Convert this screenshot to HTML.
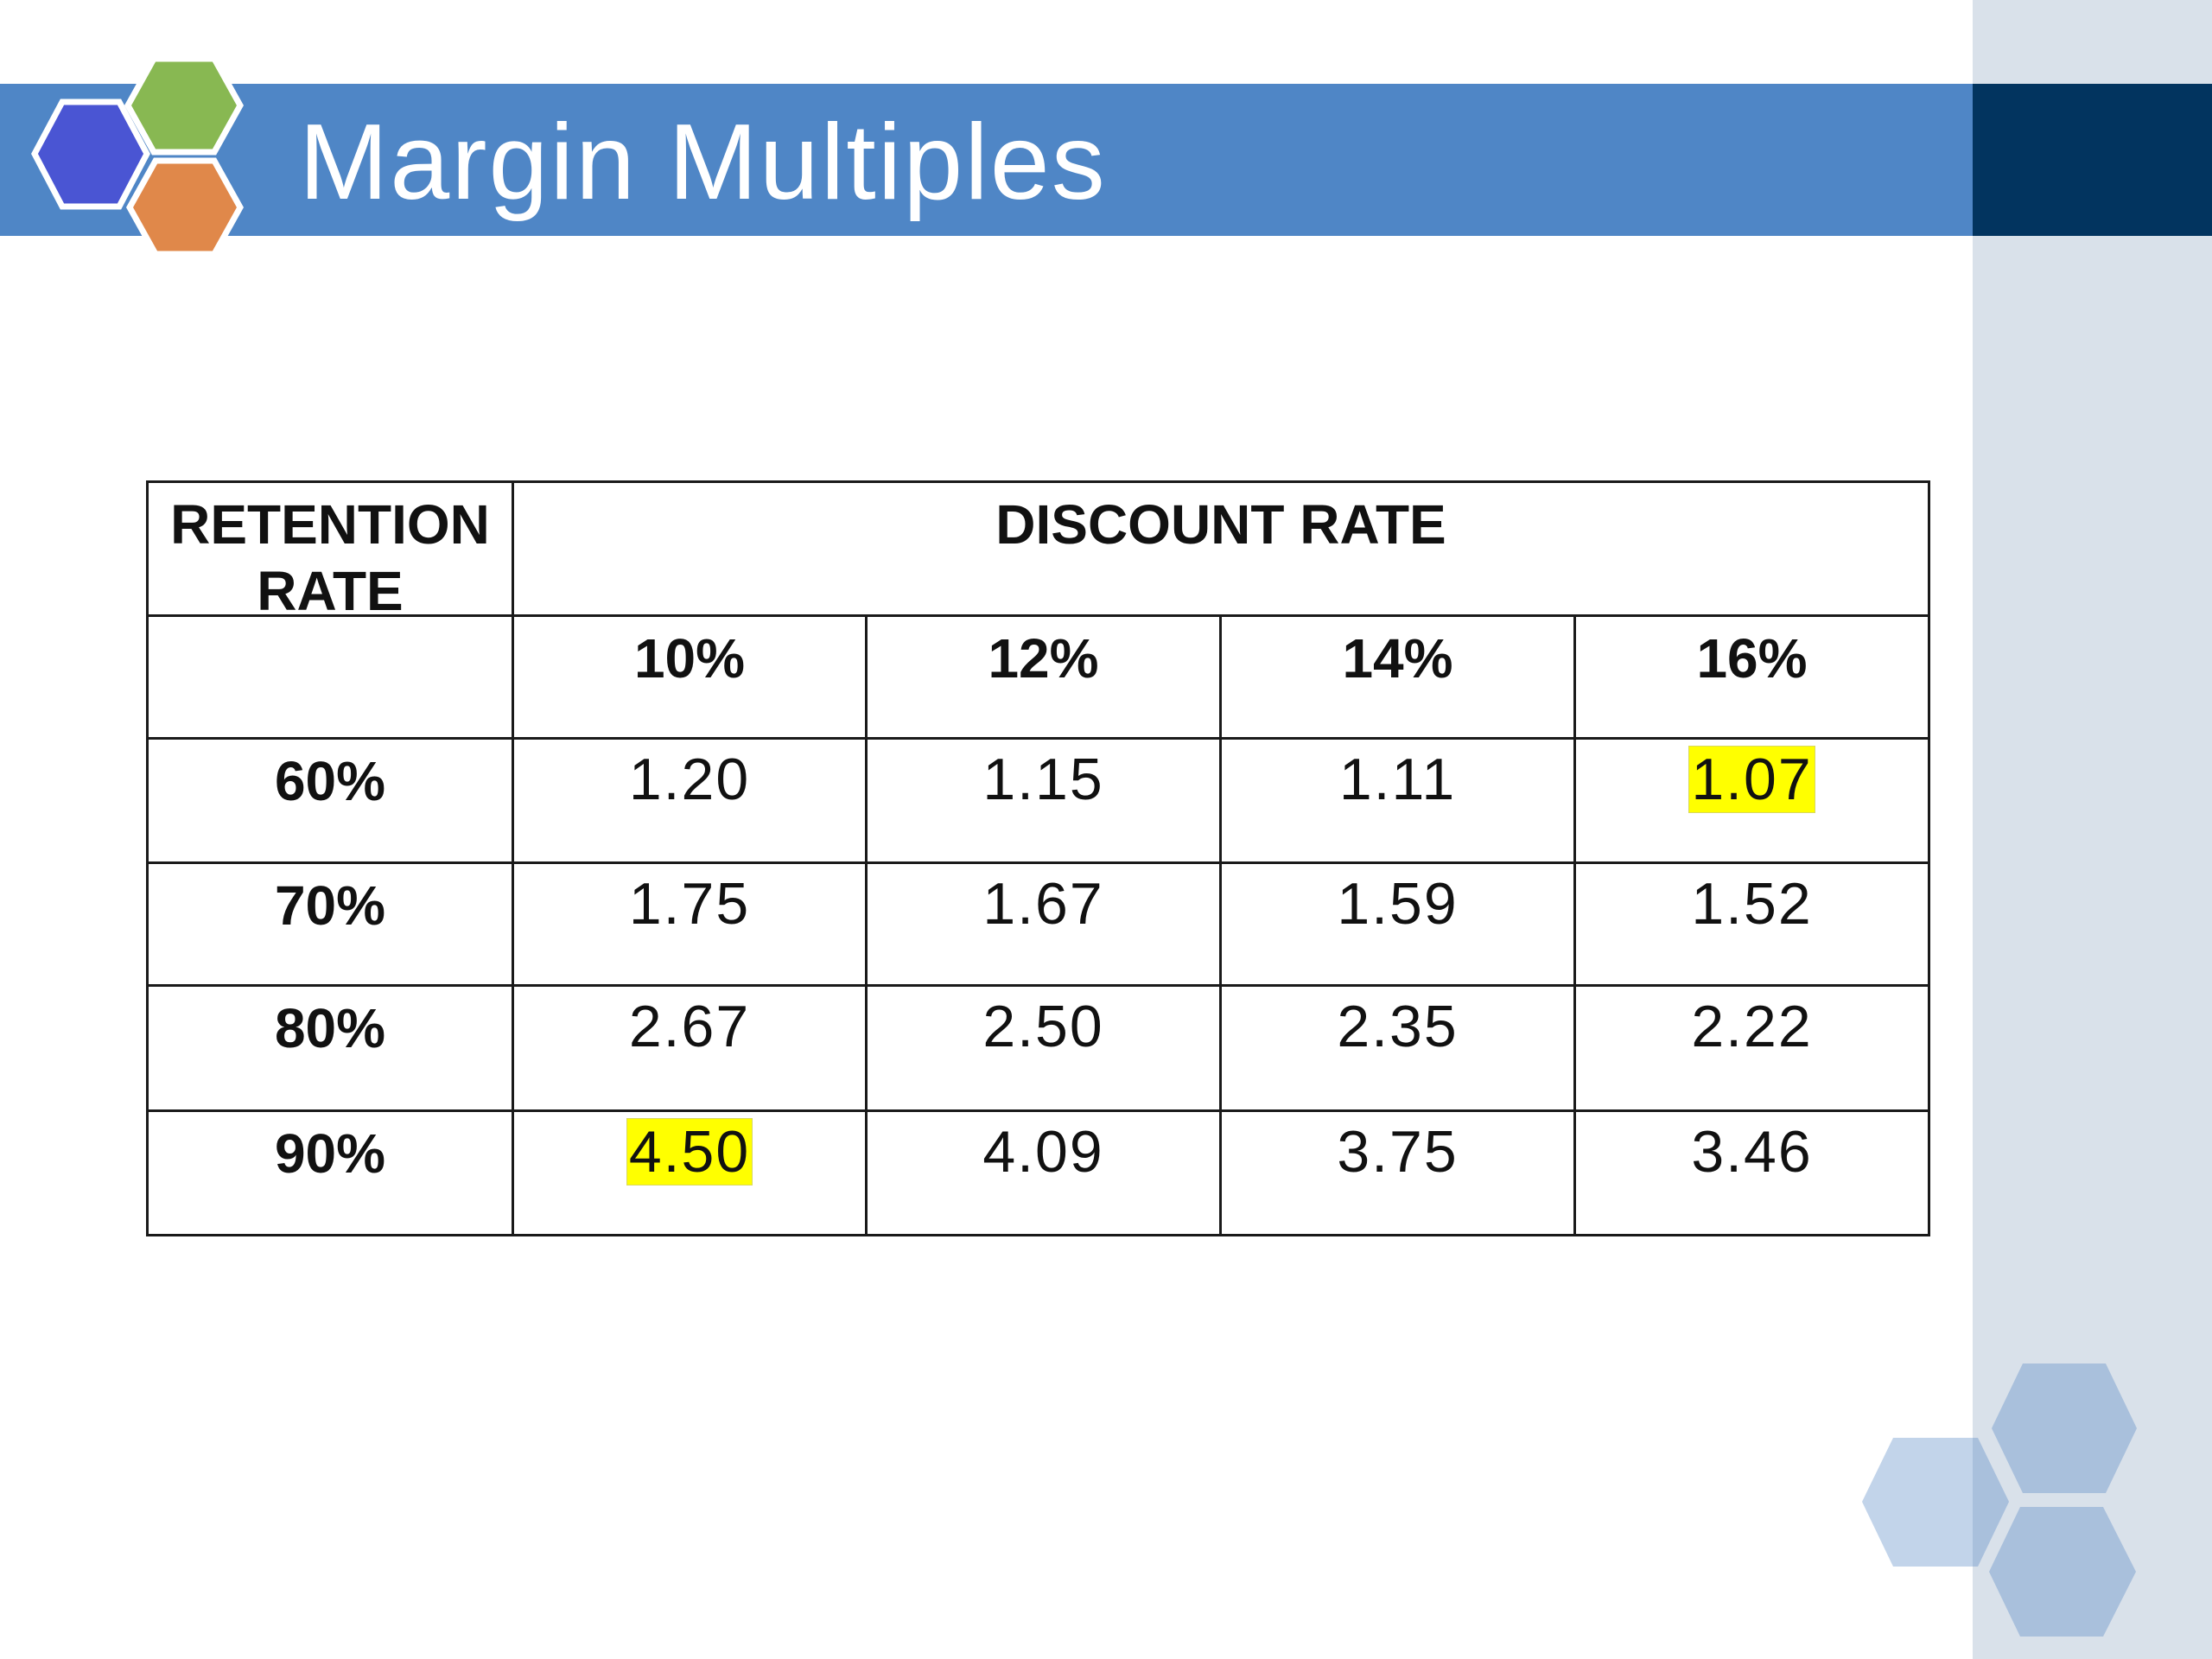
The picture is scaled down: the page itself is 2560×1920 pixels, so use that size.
<!DOCTYPE html>
<html><head><meta charset="utf-8"><style>
html,body{margin:0;padding:0}
body{width:2560px;height:1920px;position:relative;overflow:hidden;background:#fff;font-family:"Liberation Sans",Arial,sans-serif}
.abs{position:absolute}
.cell{position:absolute;box-sizing:border-box;text-align:center;color:#111}
.hl{background:#ffff00;outline:1px solid #d8d860;padding:0 2px}
</style></head><body>
<div class="abs" style="left:2283px;top:0;width:277px;height:1920px;background:#d9e1ea"></div>
<div class="abs" style="left:0;top:97px;width:2283px;height:176px;background:#4f86c6"></div>
<div class="abs" style="left:2283px;top:97px;width:277px;height:176px;background:#02345f"></div>
<svg class="abs" style="left:0;top:0" width="300" height="310">
<polygon points="40,178 72,118 138,118 170,178 138,239 72,239" fill="#4a55d3" stroke="#fff" stroke-width="7"/>
<polygon points="148,122 178,68 248,68 278,122 248,176 178,176" fill="#88b852" stroke="#fff" stroke-width="7"/>
<polygon points="150,240 180,186 248,186 278,240 248,294 180,294" fill="#e0884a" stroke="#fff" stroke-width="7"/>
</svg>
<div class="abs" style="left:346px;top:118px;font-size:124px;color:#fff;line-height:140px;letter-spacing:2px">Margin Multiples</div>
<svg class="abs" style="left:2100px;top:1500px" width="460" height="420">
<defs><clipPath id="cp"><rect x="183" y="0" width="300" height="420"/></clipPath></defs>
<polygon points="55,238 91,164 189,164 225,238 189,313 91,313" fill="#c2d4ea"/>
<polygon points="55,238 91,164 189,164 225,238 189,313 91,313" fill="#a9c0dc" clip-path="url(#cp)"/>
<polygon points="205,153 241,78 337,78 373,153 337,228 241,228" fill="#a9c0dc"/>
<polygon points="202,319 238,244 334,244 372,319 334,394 238,394" fill="#a9c0dc"/>
</svg>
<div id="tbl"></div>
<script>
const discountRates=["10%","12%","14%","16%"];
const retentionRates=["60%","70%","80%","90%"];
const row60=["1.20","1.15","1.11","1.07"];
const row70=["1.75","1.67","1.59","1.52"];
const row80=["2.67","2.50","2.35","2.22"];
const row90=["4.50","4.09","3.75","3.46"];
const values=[row60,row70,row80,row90];
const highlights=[[0,3],[3,0]];
const colX=[170,593,1002,1412,1822,2232];
const rowY=[557,712,854,998,1140,1285,1429];
const t=document.getElementById('tbl');
function cell(x,y,w,h,html,name,bold){
 const d=document.createElement('div');d.className='cell';
 
 
 d.style.cssText=`left:${x}px;top:${y}px;width:${w}px;height:${h}px;border:3px solid #1a1a1a;margin:-1px 0 0 -1px;font-size:${bold?64:68}px;font-weight:${bold?'bold':'normal'};line-height:77px;padding-top:${bold?10:8}px;letter-spacing:${bold?0:2}px`;
 d.innerHTML=html;t.appendChild(d);
}
cell(colX[0],rowY[0],colX[1]-colX[0]+3,rowY[1]-rowY[0]+3,"RETENTION<br>RATE","retention-rate-header",true);
cell(colX[1],rowY[0],colX[5]-colX[1]+3,rowY[1]-rowY[0]+3,"DISCOUNT RATE","discount-rate-header",true);
cell(colX[0],rowY[1],colX[1]-colX[0]+3,rowY[2]-rowY[1]+3,"","blank-header",true);
discountRates.forEach((r,i)=>cell(colX[i+1],rowY[1],colX[i+2]-colX[i+1]+3,rowY[2]-rowY[1]+3,r,"discount-"+r.replace('%',''),true));
retentionRates.forEach((r,j)=>{
 cell(colX[0],rowY[j+2],colX[1]-colX[0]+3,rowY[j+3]-rowY[j+2]+3,r,"retention-"+r.replace('%',''),true);
 values[j].forEach((v,i)=>{
  const hl=highlights.some(h=>h[0]===j&&h[1]===i);
  cell(colX[i+1],rowY[j+2],colX[i+2]-colX[i+1]+3,rowY[j+3]-rowY[j+2]+3,hl?`<span class="hl">${v}</span>`:v,"value-"+r.replace('%','')+"-"+discountRates[i].replace('%',''),false);
 });
});
</script>
</body></html>
